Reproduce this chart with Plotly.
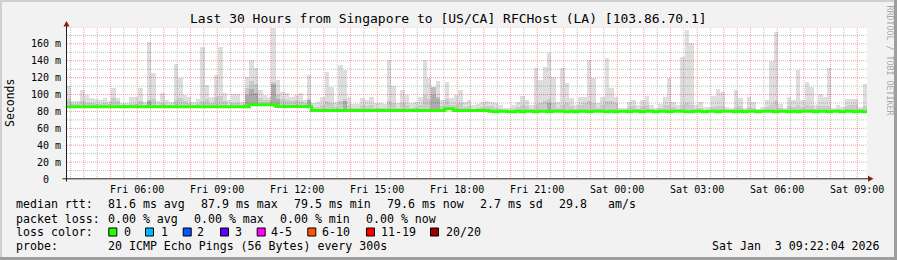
import plotly.graph_objects as go
from datetime import datetime, timedelta

# ---------------- data ----------------
start_time = datetime(2026, 1, 2, 3, 22, 4)
step_minutes = 10
span_hours = 30

median_rtt = [
    85.7, 85.7, 85.7, 85.7, 85.7, 85.7, 85.7, 85.7, 85.7, 85.7,
    85.7, 85.7, 85.7, 85.7, 85.7, 85.7, 85.7, 85.7, 85.7, 85.7,
    85.7, 85.7, 85.7, 85.7, 85.7, 85.7, 85.7, 85.7, 85.7, 85.7,
    85.7, 85.7, 85.7, 85.7, 85.7, 85.7, 85.7, 85.7, 85.7, 85.7,
    85.7, 87.9, 87.9, 87.9, 87.9, 87.9, 87.9, 85.9, 85.9, 85.9,
    85.9, 85.9, 85.9, 85.9, 85.9, 81.0, 81.0, 81.0, 81.0, 81.0,
    81.0, 81.0, 81.0, 81.0, 81.0, 81.0, 81.0, 81.0, 81.0, 81.0,
    81.0, 81.0, 81.0, 81.0, 81.0, 81.0, 81.0, 81.0, 81.0, 81.0,
    81.0, 81.0, 81.0, 81.0, 81.0, 83.3, 83.3, 81.0, 81.0, 81.0,
    81.0, 81.0, 81.0, 81.0, 81.0, 80.2, 79.6, 80.2, 80.2, 79.6,
    79.6, 80.2, 79.5, 80.2, 80.2, 79.6, 80.2, 80.2, 79.6, 80.2,
    80.2, 80.2, 79.6, 80.2, 79.6, 80.2, 80.2, 79.6, 80.2, 80.2,
    80.2, 79.6, 80.2, 79.6, 80.2, 80.2, 79.6, 80.2, 80.2, 79.6,
    80.2, 80.2, 79.6, 80.2, 80.2, 79.6, 80.2, 80.2, 80.2, 79.6,
    79.6, 80.2, 80.2, 79.6, 80.2, 80.2, 79.6, 80.2, 80.2, 80.2,
    79.6, 80.2, 79.6, 80.2, 80.2, 79.6, 80.2, 80.2, 80.2, 79.6,
    80.2, 80.2, 79.6, 80.2, 79.6, 80.2, 80.2, 80.2, 79.6, 80.2,
    80.2, 79.6, 80.2, 80.2, 79.6, 80.2, 80.2, 79.6, 80.2, 79.6,
]

smoke_max = [
    110.0, 92.5, 92.5, 105.5, 99.5, 96.4, 94.8, 93.6, 96.4, 92.5,
    107.5, 95.6, 89.7, 89.7, 97.6, 97.6, 108.2, 90.9, 162.8, 125.2,
    92.5, 101.5, 93.6, 91.7, 135.9, 119.3, 99.5, 97.6, 91.7, 94.8,
    156.8, 111.4, 97.6, 123.2, 156.8, 101.5, 93.6, 100.3, 100.3, 91.7,
    121.3, 141.0, 131.2, 105.5, 99.5, 97.6, 178.5, 117.3, 103.5, 101.5,
    97.6, 99.5, 101.5, 93.6, 123.2, 89.7, 90.9, 97.6, 127.2, 109.4,
    91.7, 135.1, 129.2, 97.6, 88.5, 88.5, 95.6, 93.6, 97.6, 89.7,
    89.7, 88.5, 141.0, 110.0, 89.7, 105.5, 99.5, 89.7, 91.7, 97.6,
    141.0, 119.3, 109.4, 116.1, 93.6, 115.3, 95.6, 99.5, 105.5, 91.7,
    93.6, 87.7, 88.5, 90.9, 92.5, 91.7, 89.7, 87.7, 84.5, 83.7,
    87.7, 91.7, 98.8, 93.6, 87.7, 131.0, 117.3, 133.0, 149.0, 121.3,
    90.9, 131.0, 113.4, 95.6, 87.7, 96.8, 97.6, 141.0, 119.3, 89.7,
    97.6, 143.0, 107.5, 97.6, 83.7, 83.7, 91.7, 93.6, 87.7, 93.6,
    98.8, 87.7, 83.7, 88.5, 97.6, 120.0, 91.7, 87.7, 145.0, 176.6,
    160.8, 87.7, 91.7, 85.7, 85.7, 98.4, 106.7, 103.5, 85.7, 84.5,
    105.5, 96.4, 83.7, 97.6, 91.7, 83.0, 85.7, 93.6, 140.0, 174.6,
    88.5, 83.7, 97.6, 93.6, 129.2, 93.6, 115.3, 109.4, 87.7, 100.7,
    97.6, 132.0, 83.7, 87.7, 85.7, 94.8, 94.8, 94.4, 85.7, 112.2,
]

smoke_mid = [
    95, 89, 89, 92, 90, 90, 89, 89, 90, 89,
    96, 92, 88, 88, 89, 89, 92, 88, 93, 95,
    88, 90, 88, 88, 93, 96, 92, 90, 88, 89,
    92, 95, 90, 97, 98, 92, 88, 90, 90, 88,
    108, 116, 112, 96, 94, 93, 115, 100, 95, 94,
    92, 93, 92, 90, 95, 85, 85, 88, 92, 90,
    85, 92, 95, 88, 84, 84, 88, 86, 88, 84,
    84, 84, 92, 90, 84, 90, 88, 84, 85, 88,
    100, 95, 100, 95, 87, 95, 88, 88, 90, 85,
    86, 83, 84, 85, 86, 86, 84, 83, 82, 82,
    83, 85, 88, 86, 83, 88, 90, 92, 95, 90,
    84, 88, 90, 86, 83, 88, 90, 92, 90, 84,
    88, 92, 92, 90, 82, 82, 85, 86, 83, 86,
    88, 83, 82, 84, 88, 88, 85, 83, 88, 90,
    88, 83, 84, 82, 82, 85, 86, 86, 82, 82,
    85, 86, 82, 85, 84, 82, 82, 85, 88, 92,
    84, 82, 86, 85, 88, 85, 88, 86, 83, 86,
    86, 86, 82, 83, 82, 86, 88, 88, 83, 86,
]

dark_bins = [18, 40, 41, 42, 46, 47, 54, 62, 82, 83, 108]
dark_top = [92, 100, 106, 102, 112, 95, 93, 92, 109, 97, 90]

x_tick_labels = ["Fri 06:00", "Fri 09:00", "Fri 12:00", "Fri 15:00", "Fri 18:00",
                 "Fri 21:00", "Sat 00:00", "Sat 03:00", "Sat 06:00", "Sat 09:00"]
y_tick_values = [0, 20, 40, 60, 80, 100, 120, 140, 160, 180]
y_minor_values = [10, 30, 50, 70, 90, 110, 130, 150, 170]
y_tick_labels = ["0\u00a0\u00a0", "20 m", "40 m", "60 m", "80 m", "100 m", "120 m",
                 "140 m", "160 m", ""]

title_text = "Last 30 Hours from Singapore to [US/CA] RFCHost (LA) [103.86.70.1]"
rtt_label = "median rtt:"
rtt_stats = ["81.6 ms avg", "87.9 ms max", "79.5 ms min", "79.6 ms now",
             "2.7 ms sd", "29.8", "am/s"]
loss_label = "packet loss:"
loss_stats = ["0.00 % avg", "0.00 % max", "0.00 % min", "0.00 % now"]
color_label = "loss color:"
loss_labels = ["0", "1", "2", "3", "4-5", "6-10", "11-19", "20/20"]
loss_colors = ["#26ff00", "#00b8ff", "#0059ff", "#5e00ff", "#ff00ff",
               "#ff5500", "#ff0000", "#a10000"]
probe_label = "probe:"
probe_text = "20 ICMP Echo Pings (56 Bytes) every 300s"
stamp_text = "Sat Jan  3 09:22:04 2026"
watermark = "RRDTOOL / TOBI OETIKER"

# ---------------- layout geometry (pixels) ----------------
W, H = 897, 260
PL, PR, PT, PB = 67, 867, 27, 179
MONO = "DejaVu Sans Mono"


def fx(px):
    return (px - PL) / (PR - PL)


def fy(py):
    return (PB - py) / (PB - PT)


def nb(s):
    return s.replace("  ", " \u00a0")


step = timedelta(minutes=step_minutes)
n = len(median_rtt)
centers = [start_time + step * (i + 0.5) for i in range(n)]
edges = [start_time + step * i for i in range(n + 1)]
end_time = start_time + timedelta(hours=span_hours)
bar_w = step_minutes * 60 * 1000

fig = go.Figure()
fig.add_trace(go.Bar(
    x=centers, y=[m - b for m, b in zip(smoke_max, median_rtt)], base=median_rtt,
    width=bar_w, marker=dict(color="rgba(0,0,0,0.13)", line=dict(width=0)),
    hoverinfo="skip"))
fig.add_trace(go.Bar(
    x=centers, y=[m - b for m, b in zip(smoke_mid, median_rtt)], base=median_rtt,
    width=bar_w, marker=dict(color="rgba(0,0,0,0.09)", line=dict(width=0)),
    hoverinfo="skip"))
fig.add_trace(go.Bar(
    x=[centers[i] for i in dark_bins],
    y=[t - median_rtt[i] for i, t in zip(dark_bins, dark_top)],
    base=[median_rtt[i] for i in dark_bins],
    width=bar_w, marker=dict(color="rgba(0,0,0,0.15)", line=dict(width=0)),
    hoverinfo="skip"))
fig.add_trace(go.Scatter(
    x=edges, y=median_rtt + [median_rtt[-1]], mode="lines",
    line=dict(color="#26ff00", width=3, shape="hv"), hoverinfo="skip"))

# hourly major ticks, labels every 3 hours
first_hour = (start_time + timedelta(hours=1)).replace(minute=0, second=0)
hour_ticks = []
t = first_hour
while t <= end_time:
    hour_ticks.append(t)
    t += timedelta(hours=1)
half_ticks = [h - timedelta(minutes=30) for h in hour_ticks if h - timedelta(minutes=30) > start_time]
if hour_ticks[-1] + timedelta(minutes=30) < end_time:
    half_ticks.append(hour_ticks[-1] + timedelta(minutes=30))
label_iter = iter(x_tick_labels)
hour_text = [next(label_iter) if h.hour % 3 == 0 else "" for h in hour_ticks]

MAJ = "rgba(232,80,80,0.55)"
MIN = "rgba(130,130,130,0.5)"
DASH = "1px,1px"

fig.update_layout(
    width=W, height=H, margin=dict(l=PL, r=W - PR, t=PT, b=H - PB, pad=0),
    paper_bgcolor="#f2f2f2", plot_bgcolor="#ffffff",
    barmode="overlay", bargap=0, showlegend=False,
    font=dict(family=MONO, color="#000000", size=10),
    xaxis=dict(
        type="date", range=[start_time, end_time], tickvals=hour_ticks, ticktext=hour_text,
        showgrid=False, ticks="", showline=False, zeroline=False,
        tickfont=dict(family=MONO, size=10, color="#000"), ticklabelstandoff=3,
    ),
    yaxis=dict(
        range=[0, 180], tickvals=y_tick_values, ticktext=y_tick_labels,
        showgrid=False, ticks="", showline=False, zeroline=False,
        tickfont=dict(family=MONO, size=10, color="#000"), ticklabelstandoff=5,
    ),
)

shapes = []
# grid (drawn as shapes beneath the traces)
for v in half_ticks:
    shapes.append(dict(type="line", xref="x", yref="paper", x0=v, x1=v, y0=0, y1=1,
                       line=dict(color=MIN, width=1, dash=DASH), layer="below"))
for v in y_minor_values:
    shapes.append(dict(type="line", xref="paper", yref="y", x0=0, x1=1, y0=v, y1=v,
                       line=dict(color=MIN, width=1, dash=DASH), layer="below"))
for v in hour_ticks:
    shapes.append(dict(type="line", xref="x", yref="paper", x0=v, x1=v, y0=0, y1=1,
                       line=dict(color=MAJ, width=1, dash=DASH), layer="below"))
for v in y_tick_values[1:]:
    shapes.append(dict(type="line", xref="paper", yref="y", x0=0, x1=1, y0=v, y1=v,
                       line=dict(color=MAJ, width=1, dash=DASH), layer="below"))

# frame
shapes.append(dict(type="rect", xref="paper", yref="paper", x0=fx(0), x1=fx(W), y0=fy(0), y1=fy(2),
                   fillcolor="#cfcfcf", line=dict(width=0), layer="above"))
shapes.append(dict(type="rect", xref="paper", yref="paper", x0=fx(0), x1=fx(2), y0=fy(0), y1=fy(H),
                   fillcolor="#cfcfcf", line=dict(width=0), layer="above"))
shapes.append(dict(type="rect", xref="paper", yref="paper", x0=fx(W - 3), x1=fx(W), y0=fy(0), y1=fy(H),
                   fillcolor="#9e9e9e", line=dict(width=0), layer="above"))
shapes.append(dict(type="rect", xref="paper", yref="paper", x0=fx(0), x1=fx(W), y0=fy(H - 3), y1=fy(H),
                   fillcolor="#9e9e9e", line=dict(width=0), layer="above"))
# axes with arrows
shapes.append(dict(type="line", xref="paper", yref="paper", x0=fx(62.5), x1=fx(868.5), y0=fy(178.8), y1=fy(178.8),
                   line=dict(color="#1f1f1f", width=1), layer="above"))
shapes.append(dict(type="line", xref="paper", yref="paper", x0=fx(66.5), x1=fx(66.5), y0=fy(181.5), y1=fy(25),
                   line=dict(color="#1f1f1f", width=1), layer="above"))
shapes.append(dict(type="path", xref="paper", yref="paper",
                   path="M {:.5f},{:.5f} L {:.5f},{:.5f} L {:.5f},{:.5f} Z".format(
                       fx(868), fy(175.8), fx(868), fy(181.8), fx(873.5), fy(178.8)),
                   fillcolor="#801f1f", line=dict(width=0), layer="above"))
shapes.append(dict(type="path", xref="paper", yref="paper",
                   path="M {:.5f},{:.5f} L {:.5f},{:.5f} L {:.5f},{:.5f} Z".format(
                       fx(63.5), fy(26.5), fx(69.5), fy(26.5), fx(66.5), fy(21)),
                   fillcolor="#801f1f", line=dict(width=0), layer="above"))

# loss colour boxes
box_x = [108.3, 145, 182.7, 220, 256.7, 307.3, 366, 430]
for bx, col in zip(box_x, loss_colors):
    shapes.append(dict(type="rect", xref="paper", yref="paper", x0=fx(bx + 0.5), x1=fx(bx + 8.5),
                       y0=fy(228), y1=fy(236), fillcolor=col, line=dict(color="#000", width=1),
                       layer="above"))
fig.update_layout(shapes=shapes)

ann = []


def text(x, y, s, size=11.6, anchor="left", **kw):
    ann.append(dict(x=fx(x), y=fy(y), xref="paper", yref="paper", text=nb(s), showarrow=False,
                    xanchor=anchor, yanchor="middle", borderpad=0,
                    font=dict(family=MONO, size=size, color=kw.pop("color", "#000")), **kw))


text(448.5, 18.5, title_text, size=13, anchor="center")
text(10, 103, "Seconds", size=11.5, anchor="center", textangle=-90)
text(889.5, 60, watermark, size=8.3, anchor="center", textangle=90, color="#a8a8a8")

LY = [204, 218.5, 232, 246]
text(15, LY[0], rtt_label)
for s, x in zip(rtt_stats, [106.5, 199.5, 292.5, 386, 478.5, 557.5, 606.5]):
    text(x, LY[0], s)
text(15, LY[1], loss_label)
for s, x in zip(loss_stats, [106.5, 192.5, 278.5, 364.5]):
    text(x, LY[1], s)
text(15, LY[2], color_label)
for s, x in zip(loss_labels, [122.5, 159.5, 196, 233.5, 270, 321, 379.5, 444.5]):
    text(x, LY[2], s)
text(15, LY[3], probe_label)
text(106.5, LY[3], probe_text)
text(880.5, LY[3], stamp_text, anchor="right")

fig.update_layout(annotations=ann)
fig.write_html("out.html")
